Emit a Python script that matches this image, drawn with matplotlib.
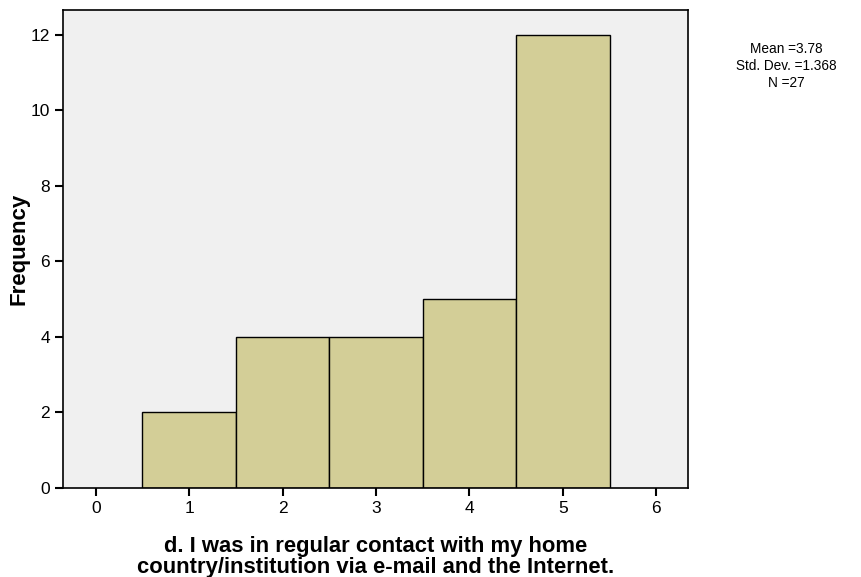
import matplotlib.pyplot as plt

plt.rcParams['font.family'] = ['Liberation Sans', 'DejaVu Sans']

values = [1, 2, 3, 4, 5]
freqs = [2, 4, 4, 5, 12]
xticks = [0, 1, 2, 3, 4, 5, 6]
yticks = [0, 2, 4, 6, 8, 10, 12]
stats_text = "Mean =3.78\nStd. Dev. =1.368\nN =27"
xlabel = "d. I was in regular contact with my home\ncountry/institution via e-mail and the Internet."

fig = plt.figure(figsize=(8.62, 5.77), dpi=100)
ax = fig.add_axes([63 / 862, 1 - 488 / 577, 625 / 862, 478 / 577])
ax.set_facecolor("#f0f0f0")

ax.bar(values, freqs, width=1.0, color="#d3ce97", edgecolor="black", linewidth=1.0)

ax.set_xlim(-0.35, 6.34)
ax.set_ylim(0, 12.66)
ax.set_xticks(xticks)
ax.set_yticks(yticks)
ax.tick_params(direction="out", length=6, width=1.5, labelsize=12.5, colors="black")
for s in ax.spines.values():
    s.set_linewidth(1.2)

ax.set_ylabel("Frequency", fontsize=16, fontweight="bold")
ax.yaxis.set_label_coords(-0.053, 0.5)
ax.set_xlabel(xlabel, fontsize=15.8, fontweight="bold", labelpad=14, linespacing=1.0)

fig.text(786 / 862, 1 - 66 / 577, stats_text, ha="center", va="center",
         fontsize=9.8, linespacing=1.25)

fig.savefig("out.png", dpi=100)
